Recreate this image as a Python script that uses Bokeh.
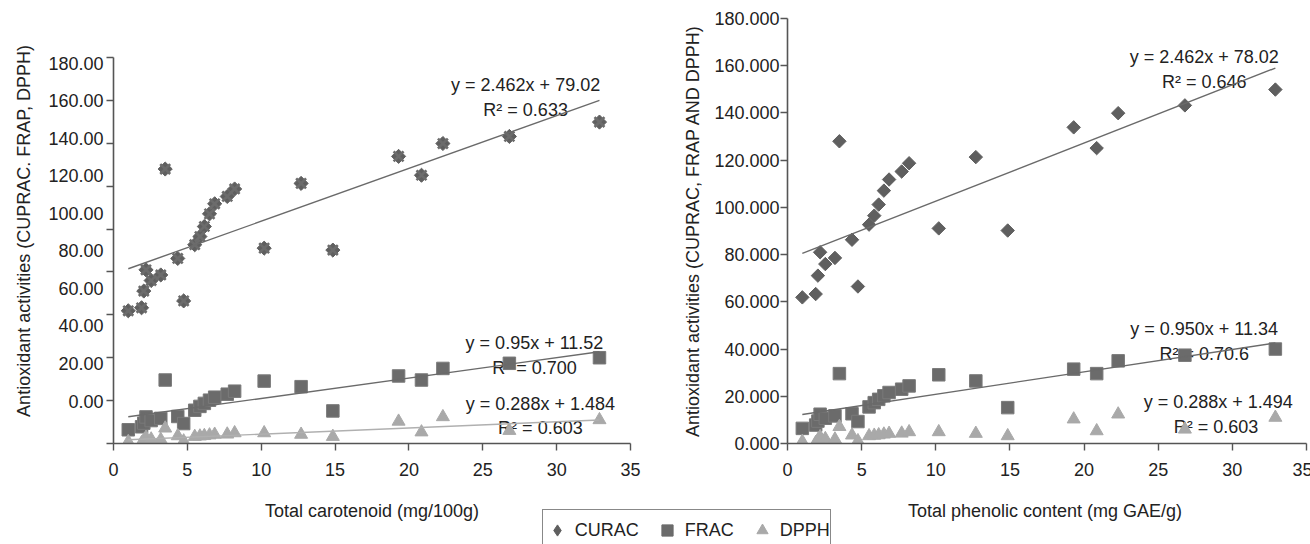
from math import pi
from bokeh.plotting import figure
from bokeh.layouts import column, row
from bokeh.models import (Range1d, FixedTicker, CustomJSTickFormatter, Label,
                          Legend, LegendItem, PrintfTickFormatter, ColumnDataSource)
from bokeh.embed import file_html
from bokeh.resources import INLINE
from bokeh.core.properties import value

# ---------------- data ----------------
x_vals = [1.0, 1.9, 2.05, 2.2, 2.55, 3.2, 3.5, 4.35, 4.75, 5.5, 5.85, 6.15, 6.5, 6.85,
          7.7, 8.2, 10.2, 12.7, 14.85, 19.3, 20.85, 22.3, 26.8, 32.9]
cuprac = [61.9, 63.3, 71.1, 81.0, 76.0, 78.6, 128.0, 86.3, 66.5, 92.7, 96.5, 101.2, 107.1,
          111.8, 115.2, 118.7, 91.1, 121.3, 90.2, 133.9, 125.1, 139.9, 143.2, 149.9]
frap = [6.4, 7.8, 9.5, 12.4, 10.7, 11.7, 29.6, 12.6, 9.3, 15.5, 17.3, 18.7, 20.2, 21.6,
        23.0, 24.4, 29.1, 26.5, 15.2, 31.5, 29.6, 35.0, 37.4, 40.0]
dpph = [0.8, 0.3, 1.5, 2.8, 2.0, 1.8, 7.1, 3.5, 1.1, 3.2, 3.4, 3.6, 3.9, 4.2,
        4.3, 4.9, 4.9, 4.2, 3.2, 10.3, 5.3, 12.4, 6.0, 11.0]

x_ticks = [0, 5, 10, 15, 20, 25, 30, 35]
y_ticks = [0, 20, 40, 60, 80, 100, 120, 140, 160, 180]
left_y_labels = ["0.00", "20.00", "40.00", "60.00", "80.00", "100.00",
                 "120.00", "140.00", "160.00", "180.00"]

# trend lines (slope, intercept) as printed on the chart
left_slopes = [2.462, 0.95, 0.288]
left_intercepts = [79.02, 11.52, 1.484]
right_slopes = [2.462, 0.950]
right_intercepts = [78.02, 11.34]

left_eq_text = ["y = 2.462x + 79.02", "R\u00b2 = 0.633",
                "y = 0.95x + 11.52", "R\u00b2 = 0.700",
                "y = 0.288x + 1.484", "R\u00b2 = 0.603"]
right_eq_text = ["y = 2.462x + 78.02", "R\u00b2 = 0.646",
                 "y = 0.950x + 11.34", "R\u00b2 = 0.70.6",
                 "y = 0.288x + 1.494", "R\u00b2 = 0.603"]

series_names = ["CURAC", "FRAC", "DPPH"]
left_x_title = "Total carotenoid (mg/100g)"
right_x_title = "Total phenolic content (mg GAE/g)"
left_y_title = "Antioxidant activities (CUPRAC. FRAP, DPPH)"
right_y_title = "Antioxidant activities (CUPRAC, FRAP AND DPPH)"

# ---------------- style ----------------
FONT = "Liberation Sans"
FS = "18px"
TXT = "#222222"
AX = "#555555"
C_CUP = "#5f5f5f"
C_FRAP = "#6b6b6b"
C_DPPH = "#a9a9a9"
C_LINE = "#6a6a6a"

# label layout positions for the left axis (labels drift from the tick marks in the original)
left_label_pos = [19.8 + 17.5 * i for i in range(len(left_y_labels))]

# equation text anchor positions (layout, data units of each panel)
left_eq_pos = [(27.9, 167.2), (27.9, 155.5), (28.5, 46.9), (28.5, 35.0), (28.9, 18.3), (28.9, 7.0)]
right_eq_pos = [(28.1, 163.6), (28.1, 153.0), (28.1, 48.6), (28.1, 38.0), (29.05, 17.5), (28.9, 6.9)]


def make_fig(fw, ymax, ml, mr):
    p = figure(frame_width=fw, frame_height=425, x_range=Range1d(0, 35), y_range=Range1d(0, ymax),
               output_backend="svg", toolbar_location=None,
               min_border_left=ml, min_border_right=mr, min_border_top=18, min_border_bottom=54)
    p.grid.visible = False
    p.outline_line_color = None
    for ax in [p.xaxis[0], p.yaxis[0]]:
        ax.axis_line_color = AX
        ax.axis_line_width = 1.6
        ax.major_tick_line_color = AX
        ax.major_tick_line_width = 1.4
        ax.minor_tick_line_color = None
        ax.major_tick_in = 0
        ax.major_tick_out = 7
        ax.major_label_text_font = FONT
        ax.major_label_text_font_size = FS
        ax.major_label_text_color = TXT
        ax.axis_label_text_font = FONT
        ax.axis_label_text_font_size = FS
        ax.axis_label_text_font_style = "normal"
        ax.axis_label_text_color = TXT
    p.xaxis.ticker = FixedTicker(ticks=x_ticks)
    p.xaxis.major_label_standoff = 12
    return p


def series_source():
    return ColumnDataSource(dict(x=x_vals, c=cuprac, f=frap, d=dpph))


def add_series(p, star):
    src = series_source()
    if star:
        p.scatter("x", "c", source=src, marker="square", angle=pi / 4, size=10,
                  fill_color=C_CUP, line_color=C_CUP)
        p.scatter("x", "c", source=src, marker="x", size=14, line_width=2.6, line_color="#6c6c6c")
    else:
        p.scatter("x", "c", source=src, marker="square", angle=pi / 4, size=9.5,
                  fill_color=C_CUP, line_color=C_CUP)
    p.scatter("x", "f", source=src, marker="square", size=12.5, fill_color=C_FRAP, line_color="#7a7a7a")
    p.scatter("x", "d", source=src, marker="triangle", size=13, fill_color=C_DPPH, line_color=C_DPPH)


def add_trends(p, slopes, intercepts, colors):
    x0, x1 = min(x_vals), max(x_vals)
    for m, b, c in zip(slopes, intercepts, colors):
        p.line([x0, x1], [m * x0 + b, m * x1 + b], line_color=c, line_width=1.4)


def add_eq_text(p, texts, pos):
    src = ColumnDataSource(dict(x=[q[0] for q in pos], y=[q[1] for q in pos], t=texts))
    p.text("x", "y", text="t", source=src, text_font=value(FONT), text_font_size=FS,
           text_color=TXT, text_align="center", text_baseline="middle")


# ---------------- left panel ----------------
# frame spans the same pixels as the right one; the axis itself stops at 180
left = make_fig(517, 198.2, 113, 50)
ly = left.yaxis[0]
ly.bounds = (y_ticks[0], y_ticks[-1])
ly.ticker = FixedTicker(ticks=left_label_pos, minor_ticks=y_ticks)
ly.formatter = CustomJSTickFormatter(args=dict(labels=left_y_labels), code="return labels[index];")
ly.major_tick_line_color = None
ly.major_tick_out = 0
ly.minor_tick_line_color = AX
ly.minor_tick_line_width = 1.4
ly.minor_tick_in = 0
ly.minor_tick_out = 7
ly.major_label_standoff = 3
ly.axis_label = left_y_title
ly.axis_label_standoff = 11
add_eq_text(left, left_eq_text, left_eq_pos)
add_series(left, True)
add_trends(left, left_slopes, left_intercepts, [C_LINE, C_LINE, "#b0b0b0"])

# ---------------- right panel ----------------
right = make_fig(519, 180, 105, 6)
ry = right.yaxis[0]
ry.ticker = FixedTicker(ticks=y_ticks)
ry.formatter = PrintfTickFormatter(format="%.3f")
ry.major_label_standoff = 1
ry.axis_label = right_y_title
ry.axis_label_standoff = 8
add_eq_text(right, right_eq_text, right_eq_pos)
add_series(right, False)
add_trends(right, right_slopes, right_intercepts, [C_LINE, C_LINE])

# ---------------- bottom strip: axis titles + legend ----------------
strip = figure(frame_width=1310, frame_height=47, x_range=Range1d(0, 1310), y_range=Range1d(544, 497),
               output_backend="svg", toolbar_location=None, min_border=0)
strip.axis.visible = False
strip.grid.visible = False
strip.outline_line_color = None
for txt, cx in [(left_x_title, 371.5), (right_x_title, 1044.5)]:
    strip.add_layout(Label(x=cx, y=510, text=txt, text_font=FONT, text_font_size=FS, text_color=TXT,
                           text_align="center", text_baseline="middle"))
# legend proxies: the same series, which fall outside this strip's ranges and are not drawn
lsrc = series_source()
g1 = strip.scatter("x", "c", source=lsrc, marker="diamond", size=9, fill_color=C_CUP, line_color=C_CUP)
g2 = strip.scatter("x", "f", source=lsrc, marker="square", size=9, fill_color=C_FRAP, line_color=C_FRAP)
g3 = strip.scatter("x", "d", source=lsrc, marker="triangle", size=9, fill_color=C_DPPH, line_color=C_DPPH)
legend = Legend(items=[LegendItem(label=series_names[0], renderers=[g1]),
                       LegendItem(label=series_names[1], renderers=[g2]),
                       LegendItem(label=series_names[2], renderers=[g3])],
                orientation="horizontal", location=(541.7, -7), glyph_width=28, glyph_height=40,
                label_standoff=4, spacing=14, padding=0, margin=0,
                border_line_color="#111111", border_line_width=1.2,
                label_text_font=FONT, label_text_font_size=FS, label_text_color=TXT,
                background_fill_color="white", background_fill_alpha=1)
strip.add_layout(legend)

layout = column(row(left, right), strip)
open("out.html", "w").write(file_html(layout, INLINE))
